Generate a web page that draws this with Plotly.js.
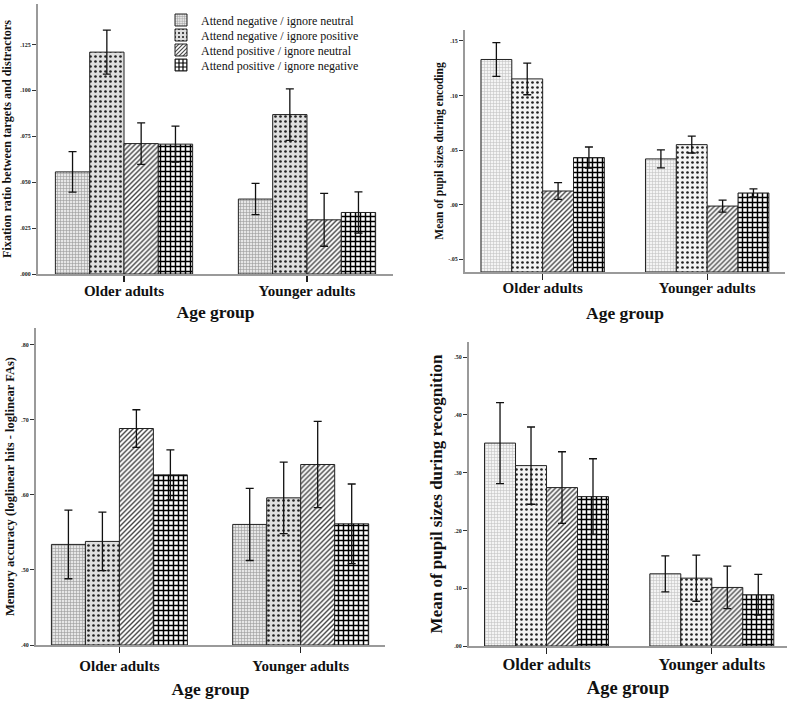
<!DOCTYPE html>
<html><head><meta charset="utf-8">
<script src="https://cdn.plot.ly/plotly-3.0.1.min.js"></script>
<style>body{margin:0;background:#fff}#chart{width:792px;height:701px}</style>
</head><body><div id="chart"></div>
<script>
// ---------- DATA ----------
const groups = ['Older adults', 'Younger adults'];
const seriesNames = [
  'Attend negative / ignore neutral',
  'Attend negative / ignore positive',
  'Attend positive / ignore neutral',
  'Attend positive / ignore negative'
];
// each inner array: [Older adults, Younger adults]
const fixationMean = [[0.0556, 0.0408], [0.1208, 0.0868], [0.0710, 0.0295], [0.0707, 0.0335]];
const fixationErr  = [[0.0110, 0.0085], [0.0120, 0.0140], [0.0113, 0.0144], [0.0098, 0.0112]];

const encodingMean = [[0.1330, 0.0419], [0.1152, 0.0550], [0.0125, -0.0013], [0.0431, 0.0107]];
const encodingErr  = [[0.0155, 0.0083], [0.0145, 0.0077], [0.0076, 0.0055], [0.0097, 0.0037]];

const accuracyMean = [[0.5339, 0.5605], [0.5379, 0.5959], [0.6882, 0.6403], [0.6265, 0.5613]];
const accuracyErr  = [[0.0457, 0.0480], [0.0390, 0.0476], [0.0250, 0.0575], [0.0332, 0.0530]];

const recognitionMean = [[0.3511, 0.1249], [0.3121, 0.1174], [0.2741, 0.1013], [0.2585, 0.0887]];
const recognitionErr  = [[0.0700, 0.0311], [0.0668, 0.0400], [0.0620, 0.0368], [0.0655, 0.0354]];

const fixationTickVals = [0, 0.025, 0.05, 0.075, 0.1, 0.125];
const fixationTickText = ['.000', '.025', '.050', '.075', '.100', '.125'];
const encodingTickVals = [-0.05, 0, 0.05, 0.10, 0.15];
const encodingTickText = ['-.05', '.00', '.05', '.10', '.15'];
const accuracyTickVals = [0.4, 0.5, 0.6, 0.7, 0.8];
const accuracyTickText = ['.40', '.50', '.60', '.70', '.80'];
const recognitionTickVals = [0, 0.1, 0.2, 0.3, 0.4, 0.5];
const recognitionTickText = ['.00', '.10', '.20', '.30', '.40', '.50'];

const yTitles = [
  'Fixation ratio between targets and distractors',
  'Mean of pupil sizes during encoding',
  'Memory accuracy (loglinear hits - loglinear FAs)',
  'Mean of pupil sizes during recognition'
];
const xTitle = 'Age group';

// ---------- LAYOUT / STYLE ----------
const W = 792, H = 701;
const dx = (a, b) => [a / W, b / W];
const dy = (top, bot) => [1 - bot / H, 1 - top / H];
const FONT = "'Liberation Serif', 'DejaVu Serif', serif";

const panels = [
  {mean: fixationMean, err: fixationErr, base: 0, xd: dx(38, 393), yd: dy(4, 274),
   xr: [-0.47, 1.47], yr: [0, 0.147], tv: fixationTickVals, tt: fixationTickText,
   ytSize: 12.2, ytStand: 9, xtSize: 15, xtShift: -4, xTitleSize: 17.5, xStand: 8, light: false},
  {mean: encodingMean, err: encodingErr, base: -0.0617, xd: dx(465, 785), yd: dy(30, 272),
   xr: [-0.472, 1.473], yr: [-0.0617, 0.160], tv: encodingTickVals, tt: encodingTickText,
   ytSize: 11.5, ytStand: 2, xtSize: 15, xtShift: -5, xTitleSize: 17.5, xStand: 12, light: true},
  {mean: accuracyMean, err: accuracyErr, base: 0.40, xd: dx(36, 385), yd: dy(328, 645),
   xr: [-0.46, 1.465], yr: [0.40, 0.822], tv: accuracyTickVals, tt: accuracyTickText,
   ytSize: 12.5, ytStand: 4, xtSize: 15, xtShift: 0, xTitleSize: 17.5, xStand: 10, light: false},
  {mean: recognitionMean, err: recognitionErr, base: 0, xd: dx(469, 787), yd: dy(342, 646),
   xr: [-0.469, 1.455], yr: [0, 0.526], tv: recognitionTickVals, tt: recognitionTickText,
   ytSize: 17, ytStand: 7.5, xtSize: 16.5, xtShift: -4, xTitleSize: 18.5, xStand: 8, light: true}
];

function patternFor(s, light) {
  if (s === 0) return {shape: '+', fgcolor: light ? '#c4c4c4' : '#9a9a9a', bgcolor: light ? '#f4f4f4' : '#e6e6e6', size: 3, solidity: 0.35};
  if (s === 1) return {shape: '.', fgcolor: '#222', bgcolor: light ? '#f4f4f4' : '#dedede', size: 5, solidity: 0.22};
  if (s === 2) return {shape: '/', fgcolor: '#444', bgcolor: '#ffffff', size: 3.5, solidity: 0.4};
  return {shape: '+', fgcolor: '#000', bgcolor: '#ffffff', size: 5, solidity: 0.5};
}

const legendRows = [20, 35, 50, 65];

const traces = [];
const layout = {
  width: W, height: H,
  margin: {l: 0, r: 0, t: 0, b: 0},
  paper_bgcolor: '#fff', plot_bgcolor: 'rgba(0,0,0,0)',
  barmode: 'group', bargap: 0.25, bargroupgap: 0,
  font: {family: FONT, color: '#111'},
  hovermode: false,
  showlegend: true
};
legendRows.forEach((row, s) => {
  const key = s === 0 ? 'legend' : 'legend' + (s + 1);
  layout[key] = {x: 161 / W, y: 1 - row / H, xanchor: 'left', yanchor: 'middle',
    bgcolor: 'rgba(0,0,0,0)', font: {family: FONT, size: 12, color: '#111'}, tracegroupgap: 0};
});

panels.forEach((p, i) => {
  const xa = i === 0 ? 'x' : 'x' + (i + 1);
  const ya = i === 0 ? 'y' : 'y' + (i + 1);
  const xk = i === 0 ? 'xaxis' : 'xaxis' + (i + 1);
  const yk = i === 0 ? 'yaxis' : 'yaxis' + (i + 1);
  p.mean.forEach((vals, s) => {
    const pat = patternFor(s, p.light);
    traces.push({
      type: 'bar', x: groups, y: vals.map(v => v - p.base), base: p.base,
      xaxis: xa, yaxis: ya, name: seriesNames[s],
      legend: s === 0 ? 'legend' : 'legend' + (s + 1),
      showlegend: i === 0,
      marker: {color: pat.bgcolor, pattern: pat, line: {color: '#222', width: 1}},
      error_y: {type: 'data', array: p.err[s], visible: true, color: '#111', thickness: 1.3, width: 4}
    });
  });
  layout[xk] = {
    domain: p.xd, anchor: ya, range: p.xr, type: 'category',
    showline: true, linecolor: '#9a9a9a', linewidth: 2,
    ticks: 'outside', ticklen: 6, tickcolor: '#222', tickwidth: 1.2,
    ticklabelstandoff: p.xtShift,
    tickfont: {family: FONT, size: p.xtSize, color: '#111', weight: 'bold'},
    showgrid: false, zeroline: false, automargin: false, fixedrange: true,
    title: {text: xTitle, font: {family: FONT, size: p.xTitleSize, color: '#111', weight: 'bold'}, standoff: p.xStand}
  };
  layout[yk] = {
    domain: p.yd, anchor: xa, range: p.yr,
    tickmode: 'array', tickvals: p.tv, ticktext: p.tt,
    showline: true, linecolor: '#9a9a9a', linewidth: 2,
    ticks: 'outside', ticklen: 4, tickcolor: '#333', tickwidth: 1,
    tickfont: {family: FONT, size: 6, color: '#222', weight: 'bold'},
    showgrid: false, zeroline: false, automargin: false, fixedrange: true,
    title: {text: yTitles[i], font: {family: FONT, size: p.ytSize, color: '#111', weight: 'bold'}, standoff: p.ytStand}
  };
});

Plotly.newPlot('chart', traces, layout, {displayModeBar: false, staticPlot: true});
</script>
</body></html>
